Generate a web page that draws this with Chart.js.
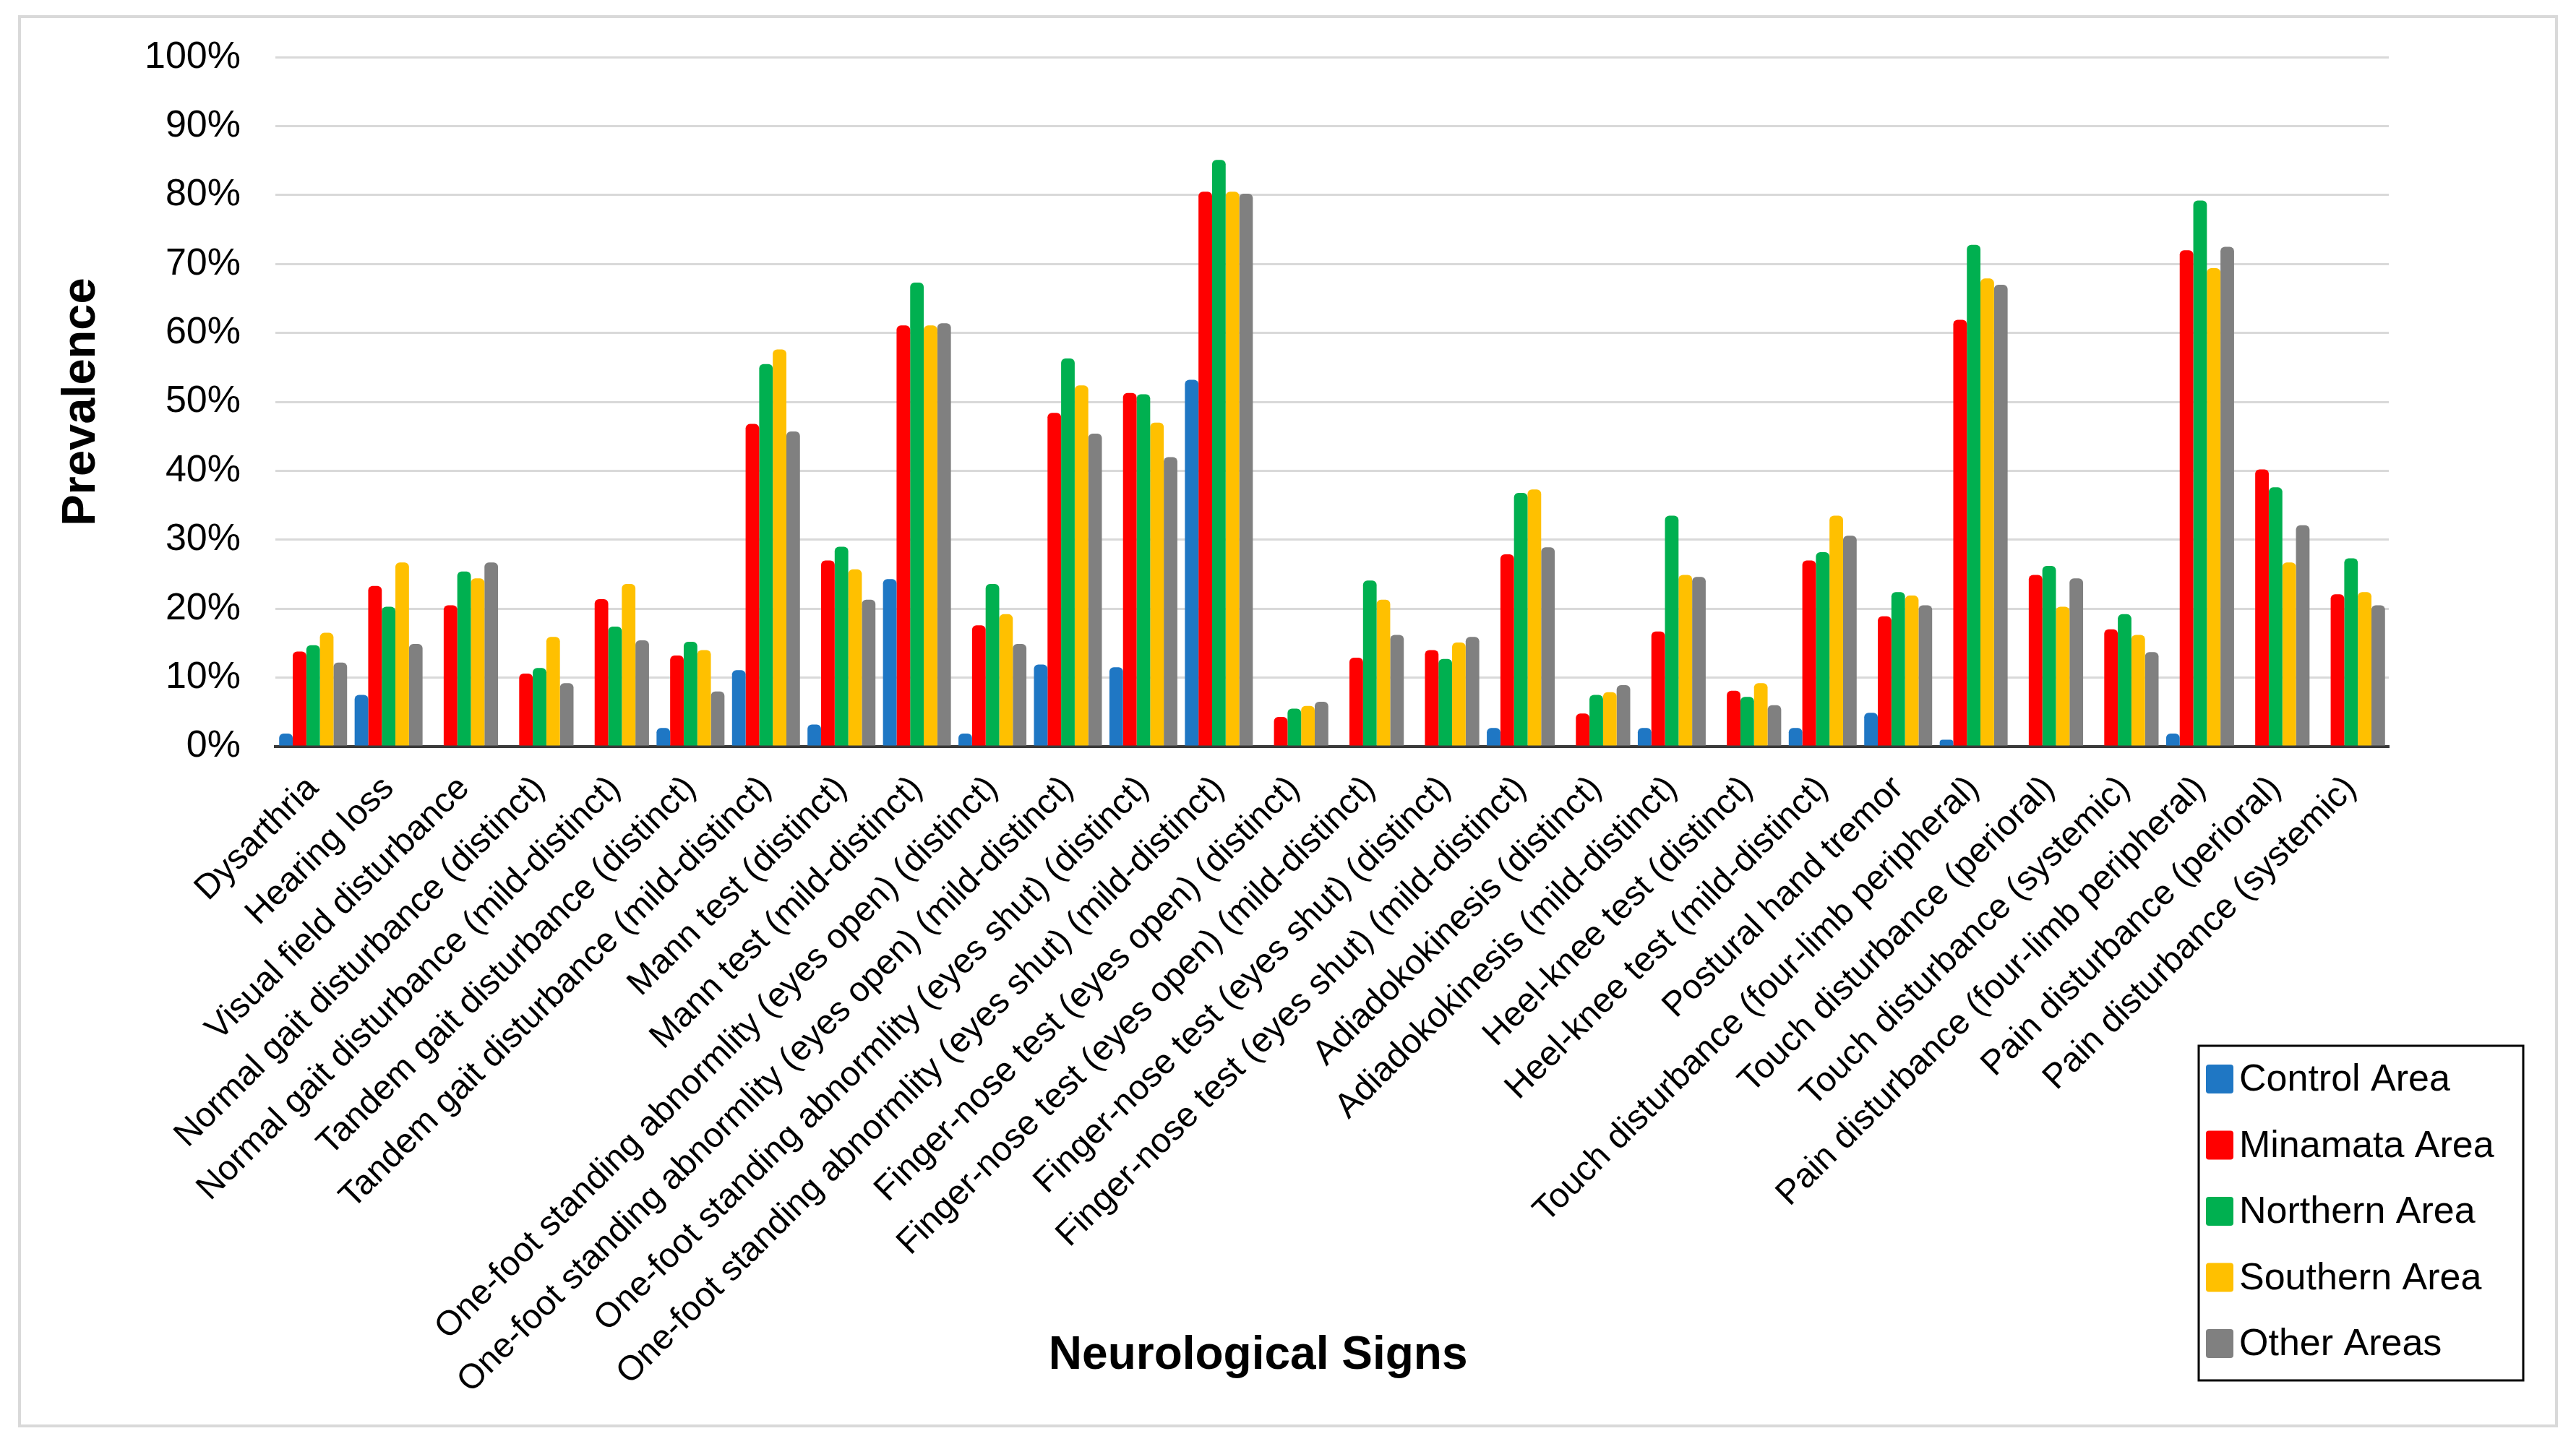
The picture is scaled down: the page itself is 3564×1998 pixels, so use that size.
<!DOCTYPE html>
<html>
<head>
<meta charset="utf-8">
<script src="https://cdn.jsdelivr.net/npm/chart.js@4/dist/chart.umd.min.js"></script>
<style>
    html, body { margin: 0; padding: 0; background: #fff; }
    #wrap { position: relative; width: 3564px; height: 1998px; }
</style>
</head>
<body>
<div id="wrap"><canvas id="chart"></canvas></div>
<script>
// Categorias (eixo X)
const categories = [
    'Dysarthria',
    'Hearing loss',
    'Visual field disturbance',
    'Normal gait disturbance (distinct)',
    'Normal gait disturbance (mild-distinct)',
    'Tandem gait disturbance (distinct)',
    'Tandem gait disturbance (mild-distinct)',
    'Mann test (distinct)',
    'Mann test (mild-distinct)',
    'One-foot standing abnormlity (eyes open) (distinct)',
    'One-foot standing abnormlity (eyes open) (mild-distinct)',
    'One-foot standing abnormlity (eyes shut) (distinct)',
    'One-foot standing abnormlity (eyes shut) (mild-distinct)',
    'Finger-nose test (eyes open) (distinct)',
    'Finger-nose test (eyes open) (mild-distinct)',
    'Finger-nose test (eyes shut) (distinct)',
    'Finger-nose test (eyes shut) (mild-distinct)',
    'Adiadokokinesis (distinct)',
    'Adiadokokinesis (mild-distinct)',
    'Heel-knee test (distinct)',
    'Heel-knee test (mild-distinct)',
    'Postural hand tremor',
    'Touch disturbance (four-limb peripheral)',
    'Touch disturbance (perioral)',
    'Touch disturbance (systemic)',
    'Pain disturbance (four-limb peripheral)',
    'Pain disturbance (perioral)',
    'Pain disturbance (systemic)'
];

// Séries (% de prevalência)
const controlArea  = [1.9, 7.5, 0, 0, 0, 2.7, 11.1, 3.2, 24.3, 1.9, 11.9, 11.5, 53.2, 0, 0, 0, 2.7, 0, 2.7, 0, 2.7, 4.9, 1.0, 0, 0, 1.9, 0, 0];
const minamataArea = [13.8, 23.3, 20.5, 10.6, 21.4, 13.2, 46.8, 27.0, 61.1, 17.6, 48.4, 51.3, 80.5, 4.3, 12.9, 14.0, 27.9, 4.8, 16.7, 8.1, 27.0, 18.9, 61.9, 24.9, 17.0, 72.0, 40.2, 22.1];
const northernArea = [14.7, 20.3, 25.4, 11.4, 17.4, 15.2, 55.5, 29.0, 67.3, 23.6, 56.3, 51.1, 85.1, 5.5, 24.1, 12.7, 36.8, 7.5, 33.5, 7.2, 28.2, 22.4, 72.8, 26.2, 19.2, 79.2, 37.6, 27.3];
const southernArea = [16.5, 26.7, 24.4, 15.9, 23.6, 14.0, 57.6, 25.7, 61.1, 19.2, 52.4, 47.0, 80.5, 5.9, 21.3, 15.1, 37.3, 7.9, 24.9, 9.2, 33.5, 21.9, 67.9, 20.3, 16.2, 69.4, 26.7, 22.4];
const otherAreas   = [12.2, 14.9, 26.7, 9.2, 15.4, 8.0, 45.7, 21.3, 61.4, 14.9, 45.4, 42.0, 80.2, 6.5, 16.2, 15.9, 28.9, 8.9, 24.6, 6.0, 30.6, 20.5, 67.0, 24.4, 13.7, 72.5, 32.1, 20.5];

const seriesNames = ['Control Area', 'Minamata Area', 'Northern Area', 'Southern Area', 'Other Areas'];
const seriesColors = ['#1f77c4', '#ff0000', '#00b050', '#ffc000', '#808080'];
const yTicks = [0, 10, 20, 30, 40, 50, 60, 70, 80, 90, 100];

const FONT = '"Liberation Sans", Arial, sans-serif';

// Moldura cinza em volta da figura
const framePlugin = {
    id: 'frame',
    beforeDraw(chart) {
        const ctx = chart.ctx;
        ctx.save();
        ctx.fillStyle = '#ffffff';
        ctx.fillRect(0, 0, chart.width, chart.height);
        ctx.strokeStyle = '#d9d9d9';
        ctx.lineWidth = 4;
        ctx.strokeRect(27, 23, 3510, 1950);
        ctx.restore();
    }
};

// Título do eixo X + legenda em caixa (posição como no original)
const overlayPlugin = {
    id: 'overlay',
    afterDraw(chart) {
        const ctx = chart.ctx;
        const area = chart.chartArea;
        ctx.save();

        ctx.fillStyle = '#000';
        ctx.font = 'bold 64px ' + FONT;
        ctx.textAlign = 'center';
        ctx.textBaseline = 'middle';
        ctx.fillText('Neurological Signs', area.left + area.width * 0.465, 1876);

        // legenda
        const box = { x: 3042, y: 1447, w: 449, h: 463 };
        ctx.strokeStyle = '#000';
        ctx.lineWidth = 3;
        ctx.strokeRect(box.x, box.y, box.w, box.h);
        ctx.font = '52px ' + FONT;
        ctx.textAlign = 'left';
        chart.data.datasets.forEach((ds, i) => {
            const cy = box.y + 46 + i * 91.5;
            ctx.fillStyle = ds.backgroundColor;
            ctx.beginPath();
            ctx.roundRect(box.x + 10, cy - 20, 38, 40, 4);
            ctx.fill();
            ctx.fillStyle = '#000';
            ctx.fillText(ds.label, box.x + 56, cy + 2);
        });
        ctx.restore();
    }
};

const seriesData = [controlArea, minamataArea, northernArea, southernArea, otherAreas];

const datasets = seriesNames.map((name, i) => ({
    label: name,
    data: seriesData[i],
    backgroundColor: seriesColors[i],
    borderWidth: 0,
    borderRadius: { topLeft: 6, topRight: 6, bottomLeft: 0, bottomRight: 0 },
    borderSkipped: 'start',
    barPercentage: 1.0,
    categoryPercentage: 0.9
}));

const chart = new Chart(document.getElementById('chart'), {
    type: 'bar',
    data: { labels: categories, datasets: datasets },
    options: {
        responsive: true,
        maintainAspectRatio: false,
        devicePixelRatio: 1,
        animation: false,
        layout: { padding: { left: 0, top: 74, right: 259, bottom: 0 } },
        plugins: {
            legend: { display: false },
            tooltip: { enabled: false }
        },
        scales: {
            x: {
                grid: { display: false, drawTicks: false },
                border: { display: true, color: '#3a3a3a', width: 4 },
                ticks: {
                    color: '#000',
                    font: { family: FONT, size: 48 },
                    minRotation: 45,
                    maxRotation: 45,
                    padding: 30,
                    autoSkip: false
                },
                afterFit(scale) { scale.height = 965; }
            },
            y: {
                min: 0,
                max: 100,
                afterBuildTicks(scale) {
                    scale.ticks = yTicks.map(v => ({ value: v }));
                },
                grid: { color: '#d9d9d9', lineWidth: 3, drawTicks: false },
                border: { display: false },
                ticks: {
                    color: '#000',
                    font: { family: FONT, size: 52 },
                    padding: 48,
                    callback: v => v + '%'
                },
                title: {
                    display: true,
                    text: 'Prevalence',
                    color: '#000',
                    font: { family: FONT, size: 65, weight: 'bold' },
                    padding: { top: 74, bottom: 0 }
                },
                afterFit(scale) { scale.width = 381; }
            }
        }
    },
    plugins: [framePlugin, overlayPlugin]
});
</script>
</body>
</html>
